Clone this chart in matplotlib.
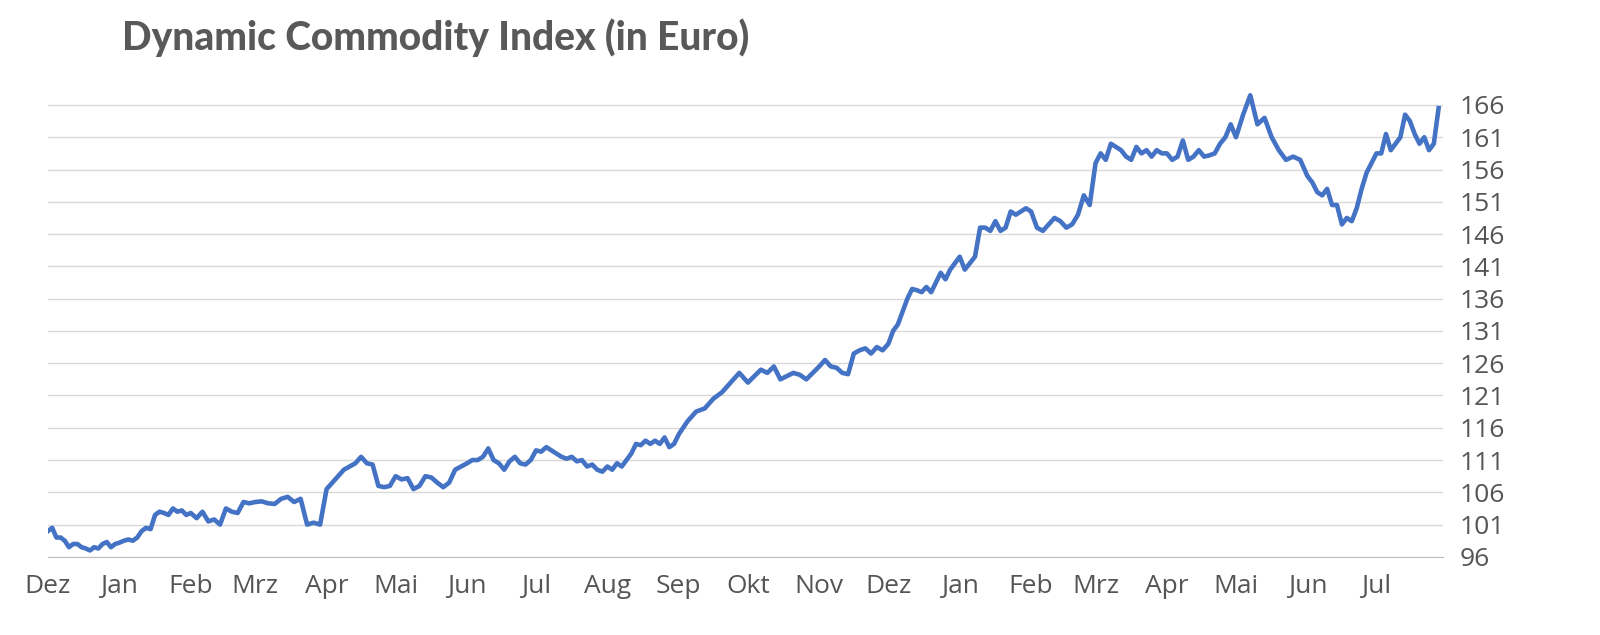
import matplotlib
matplotlib.use("Agg")
import matplotlib.pyplot as plt
import numpy as np
import pandas as pd

month_labels = ["Dez","Jan","Feb","Mrz","Apr","Mai","Jun","Jul","Aug","Sep","Okt","Nov",
                "Dez","Jan","Feb","Mrz","Apr","Mai","Jun","Jul"]
yticks = list(range(96, 167, 5))

seg = [
 [100,100.5,99,99,98.5,97.5,98,98,97.5,97.3,97,97.5,97.3,98,98.3,97.5,98],
 [98.2,98.5,98.7,98.5,99,100,100.5,100.3,102.5,103,102.8,102.5,103.5,103,103.2,102.5],
 [102.8,102,103,101.5,101.8,101,103.5,103,102.8,104.5,104.3],
 [104.5,104.6,104.3,104.2,105,105.3,104.5,105,101,101.3,101],
 [106.5,107.5,108.5,109.5,110,110.5,111.5,110.5,110.3,107,106.8,107],
 [108.5,108,108.2,106.5,107,108.5,108.3,107.5,106.8,107.5,109.5,110],
 [110.5,111,111,111.5,112.8,111,110.5,109.5,110.8,111.5,110.5,110.3,111],
 [112.5,112.3,113,112.5,112,111.5,111.2,111.5,110.8,111,110,110.3,109.5,109.2],
 [110,109.5,110.5,110,111,112,113.5,113.3,114,113.5,114,113.5,114.5,113,113.5],
 [115,117,118.5,119,120.5,121.5,123,124.5],
 [123,124,125,124.5,125.5,123.5,124,124.5,124.2,123.5,124.5],
 [125.5,126.5,125.5,125.3,124.5,124.3,127.5,128,128.3,127.5,128.5,128],
 [129,131,132,134,136,137.5,137.3,137,137.8,137,138.5,140,139,140.5,141.5],
 [142.5,140.5,141.5,142.5,147,147,146.5,148,146.5,147,149.5,149,149.5,150],
 [149.5,147,146.5,147.5,148.5,148,147,147.5,149,152,150.5],
 [157,158.5,157.5,160,159.5,159,158,157.5,159.5,158.5,159,158,159,158.5],
 [158.5,157.5,158,160.5,157.5,158,159,158,158.2,158.5,160,161,163],
 [161,164.5,167.5,163,164,161,159,157.5,158,157.5],
 [155,154,152.5,152,153,150.5,150.5,147.5,148.5,148,150,153,155.5,157],
 [158.5,158.5,161.5,159,160,161,164.5,163.5,161.5,160,161,159,160,165.5],
]

starts = pd.date_range("2020-12-01", periods=20, freq="MS")
ends = list(starts[1:]) + [pd.Timestamp("2022-07-28")]
xs, ys = [], []
for s, e, v in zip(starts, ends, seg):
    last = (e == ends[-1])
    d = pd.date_range(s, e, periods=len(v) + (0 if last else 1))
    xs += list(d[:len(v)])
    ys += v

fig = plt.figure(figsize=(16, 6.35), dpi=100)
ax = fig.add_axes([0.03, 0.123, 0.872, 0.730])
ax.plot(xs, ys, color="#4472C4", lw=3.3, solid_joinstyle="round")
ax.set_ylim(96, 167.8)
ax.set_xlim(starts[0], pd.Timestamp("2022-07-30"))
ax.set_yticks(yticks)
ax.yaxis.tick_right()
ax.set_xticks(starts)
ax.set_xticklabels(month_labels)
ax.tick_params(length=0, labelsize=19, labelcolor="#555555", pad=12)
ax.grid(axis="y", color="#d9d9d9", lw=1)
for s in ["top", "right", "left"]:
    ax.spines[s].set_visible(False)
ax.spines["bottom"].set_color("#bfbfbf")
for lab in ax.get_xticklabels() + ax.get_yticklabels():
    lab.set_family("Open Sans")
fig.text(0.076, 0.94, "Dynamic Commodity Index (in Euro)", fontsize=28, fontweight="black",
         color="#595959", va="center", family=["Lato", "DejaVu Sans"])
fig.savefig("out.png")
